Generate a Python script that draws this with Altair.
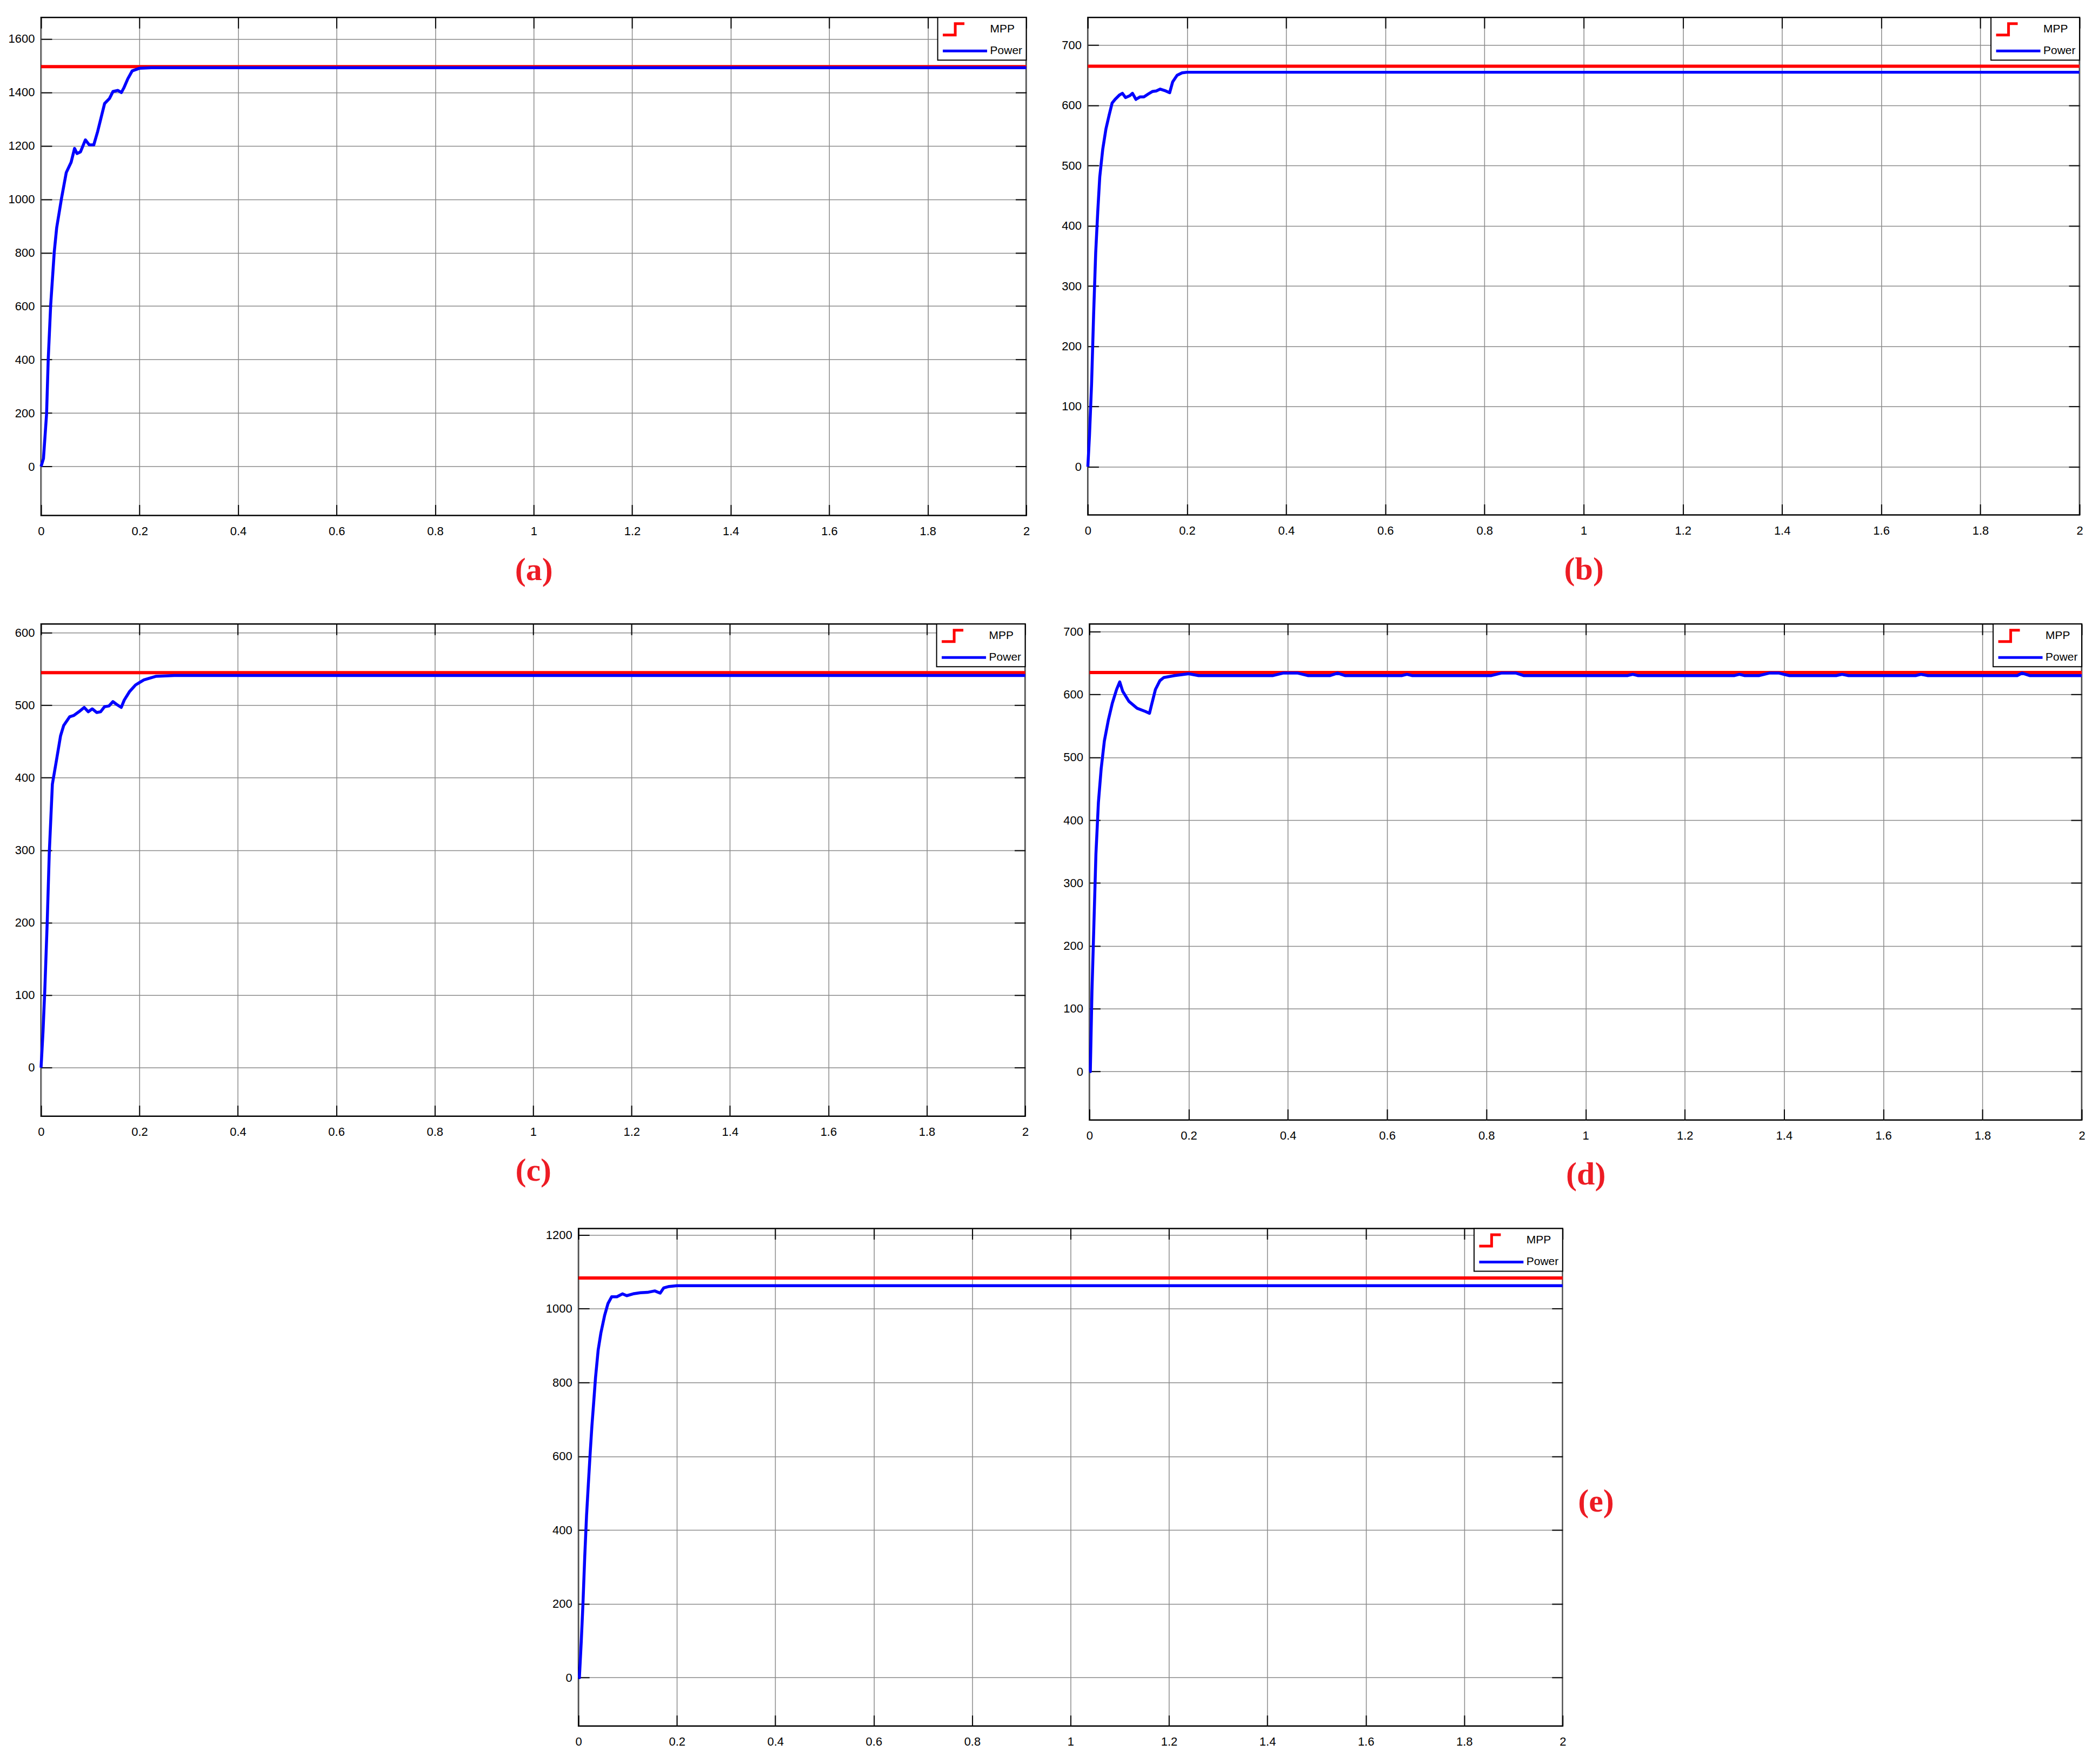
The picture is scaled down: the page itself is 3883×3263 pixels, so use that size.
import altair as alt
import pandas as pd

SERIES = ["MPP", "Power"]
SERIES_COLORS = ["#ff0000", "#0000ff"]
LEGEND_SHAPES = ["M-1,0.84L0.84,0.84L0.84,-0.84L2.2,-0.84", "M-1,0L5.56,0"]
MPP_TIME = [0, 2]
X_TICKS = [0, 0.2, 0.4, 0.6, 0.8, 1, 1.2, 1.4, 1.6, 1.8, 2]
TICK = 20

# ---- panel (a)
a_time = [0, 0.0049, 0.0112, 0.0146, 0.0195, 0.0268, 0.0317, 0.0415, 0.0512, 0.061, 0.068,
          0.073, 0.080, 0.090, 0.098, 0.107, 0.115, 0.122, 0.129, 0.139, 0.146, 0.156, 0.163,
          0.168, 0.176, 0.185, 0.2, 0.224, 2.0]
a_power = [0, 30, 197, 403, 603, 803, 893, 1003, 1100, 1138, 1190, 1171, 1177, 1222, 1203,
           1203, 1254, 1306, 1358, 1377, 1403, 1407, 1399, 1416, 1450, 1480, 1490, 1492, 1492]
a_mpp = 1496
a_ylim = [-183, 1680]
a_yticks = [0, 200, 400, 600, 800, 1000, 1200, 1400, 1600]

# ---- panel (b)
b_time = [0, 0.0033, 0.0075, 0.0116, 0.0158, 0.02, 0.024, 0.030, 0.0365, 0.043, 0.049, 0.055,
          0.0635, 0.0697, 0.076, 0.0846, 0.090, 0.097, 0.105, 0.113, 0.122, 0.130, 0.138,
          0.146, 0.157, 0.165, 0.171, 0.18, 0.19, 0.2, 2.0]
b_power = [0, 52, 137, 252, 355, 424, 481, 527, 561, 584, 604, 610, 617, 620, 613, 616, 620,
           610, 614, 614, 619, 623, 624, 627, 624, 621, 639, 650, 654, 655, 655]
b_mpp = 665
b_ylim = [-80, 746]
b_yticks = [0, 100, 200, 300, 400, 500, 600, 700]

# ---- panel (c)
c_time = [0, 0.004, 0.0075, 0.0125, 0.0167, 0.023, 0.0313, 0.0397, 0.046, 0.058, 0.0668,
          0.077, 0.0877, 0.096, 0.104, 0.113, 0.121, 0.129, 0.138, 0.146, 0.154, 0.163, 0.169,
          0.18, 0.192, 0.209, 0.234, 0.271, 2.0]
c_power = [0, 50, 105, 200, 296, 391, 424, 458, 472, 484, 486, 491, 497, 491, 495, 490, 491,
           498, 499, 505, 501, 497, 507, 519, 528, 535, 540, 541, 541]
c_mpp = 545
c_ylim = [-67, 612]
c_yticks = [0, 100, 200, 300, 400, 500, 600]

# ---- panel (d)
d_time = [0, 0.0017, 0.005, 0.009, 0.013, 0.018, 0.0236, 0.030, 0.038, 0.046, 0.0547, 0.061,
          0.067, 0.0795, 0.096, 0.1126, 0.121, 0.125, 0.133, 0.142, 0.150, 0.171, 0.2, 0.22,
          0.37, 0.39, 0.42, 0.44, 0.485, 0.50, 0.515, 0.63, 0.64, 0.65, 0.81, 0.83, 0.86,
          0.875, 1.085, 1.095, 1.105, 1.30, 1.31, 1.32, 1.35, 1.37, 1.39, 1.41, 1.505, 1.517,
          1.53, 1.665, 1.676, 1.69, 1.87, 1.88, 1.895, 2.0]
d_power = [0, 0, 127, 236, 346, 428, 482, 526, 559, 586, 608, 620, 605, 589, 578, 573, 570,
           583, 608, 622, 627, 630, 633, 630, 630, 634, 634, 630, 630, 634, 630, 630, 632,
           630, 630, 634, 634, 630, 630, 632, 630, 630, 632, 630, 630, 634, 634, 630, 630,
           632, 630, 630, 632, 630, 630, 634, 630, 630]
d_mpp = 635
d_ylim = [-77, 712]
d_yticks = [0, 100, 200, 300, 400, 500, 600, 700]

# ---- panel (e)
e_time = [0, 0.0018, 0.0055, 0.009, 0.0127, 0.0164, 0.020, 0.0237, 0.0273, 0.031, 0.0346,
          0.040, 0.0455, 0.053, 0.060, 0.0674, 0.078, 0.0893, 0.098, 0.111, 0.1257, 0.140,
          0.155, 0.166, 0.173, 0.184, 0.2, 2.0]
e_power = [0, 0, 95, 198, 328, 440, 524, 608, 683, 748, 813, 888, 934, 981, 1014, 1032, 1032,
           1040, 1035, 1040, 1043, 1044, 1048, 1042, 1056, 1060, 1062, 1062]
e_mpp = 1083
e_ylim = [-131, 1217]
e_yticks = [0, 200, 400, 600, 800, 1000, 1200]

LEG = alt.Legend(
    title=None, orient="top-right", offset=0, padding=7, rowPadding=4,
    fillColor="white", strokeColor="black", labelFont="Liberation Sans",
    labelFontSize=21, labelColor="black", labelOffset=60, symbolSize=625,
    symbolStrokeWidth=5, cornerRadius=0,
)


def panel(time, power, mpp, ylim, yticks, width, height, label, label_right=False, y_extent=81):
    power_df = pd.DataFrame({"t": time, "P": power, "series": "Power"})
    mpp_df = pd.DataFrame({"t": MPP_TIME, "P": [mpp] * len(MPP_TIME), "series": "MPP"})
    xs = alt.Scale(domain=[0, 2], nice=False, zero=False)
    ys = alt.Scale(domain=ylim, nice=False, zero=False)
    cs = alt.Scale(domain=SERIES, range=SERIES_COLORS)

    x_bottom = alt.X(
        "t:Q", scale=xs, title=None if label_right else label,
        axis=alt.Axis(orient="bottom", values=X_TICKS, format="~g", offset=-TICK,
                      tickSize=TICK, domain=False, grid=True, labelPadding=19,
                      titlePadding=32),
    )
    y_left = alt.Y(
        "P:Q", scale=ys, title=None,
        axis=alt.Axis(orient="left", values=yticks, format="d", offset=-TICK,
                      tickSize=TICK, domain=False, grid=True, labelPadding=12,
                      minExtent=y_extent, maxExtent=y_extent),
    )
    x_top = alt.X(
        "t:Q", scale=xs, title=None,
        axis=alt.Axis(orient="top", values=X_TICKS, offset=-TICK, tickSize=TICK,
                      domain=False, grid=False, labels=False),
    )
    right_axis = dict(orient="right", values=yticks, offset=-TICK, tickSize=TICK,
                      domain=False, grid=False, labels=False)
    if label_right:
        right_axis.update(titleAngle=0, titleX=48, titleY=505, titleAlign="left",
                          titleBaseline="middle")
    y_right = alt.Y("P:Q", scale=ys, title=label if label_right else None,
                    axis=alt.Axis(**right_axis))

    mpp_line = alt.Chart(mpp_df).mark_line(strokeWidth=6, color=SERIES_COLORS[0]).encode(
        x=x_bottom, y=y_left,
    )
    power_line = alt.Chart(power_df).mark_line(
        strokeWidth=5.5, strokeJoin="round", color=SERIES_COLORS[1]
    ).encode(x=x_top, y=y_right)
    key = alt.Chart(mpp_df).mark_point(filled=False, opacity=1, size=625).encode(
        x=alt.X("t:Q", scale=xs, axis=None),
        y=alt.Y("P:Q", scale=ys, axis=None),
        color=alt.Color("series:N", scale=cs, legend=LEG),
        shape=alt.Shape("series:N", scale=alt.Scale(domain=SERIES, range=LEGEND_SHAPES),
                        legend=LEG),
    ).transform_filter("false")
    return alt.layer(mpp_line, power_line, key).resolve_axis(
        x="independent", y="independent"
    ).properties(width=width, height=height)


pa = panel(a_time, a_power, a_mpp, a_ylim, a_yticks, 1824, 922, "(a)")
pb = panel(b_time, b_power, b_mpp, b_ylim, b_yticks, 1836, 921, "(b)")
pc = panel(c_time, c_power, c_mpp, c_ylim, c_yticks, 1822, 911, "(c)")
pd_ = panel(d_time, d_power, d_mpp, d_ylim, d_yticks, 1837, 918, "(d)")
pe = panel(e_time, e_power, e_mpp, e_ylim, e_yticks, 1822, 921, "(e)", label_right=True)

spacer = alt.Chart(pd.DataFrame({"v": [0]})).mark_point(opacity=0).encode(
    x=alt.X("v:Q", axis=None), y=alt.Y("v:Q", axis=None)
).properties(width=975, height=10, view=alt.ViewBackground(strokeOpacity=0))


def row(charts, spacing):
    return alt.hconcat(*charts, spacing=spacing, bounds="flush").resolve_scale(
        color="independent", shape="independent"
    ).resolve_legend(color="independent", shape="independent")


chart = alt.vconcat(
    row([pa, pb], 114),
    row([pc, pd_], 119),
    row([spacer, pe], 20),
    spacing=65,
).resolve_scale(
    color="independent", shape="independent"
).resolve_legend(
    color="independent", shape="independent"
).properties(
    padding={"left": 5, "top": 20, "right": 10, "bottom": 10},
    background="white",
).configure_view(
    stroke="black", strokeWidth=2.5
).configure_axis(
    labelFont="Liberation Sans", labelFontSize=22, labelColor="black",
    tickColor="black", tickWidth=2, gridColor="#8a8a8a", gridWidth=1.5, gridOpacity=1,
    labelFlush=False, titleFont="Liberation Serif", titleFontSize=60,
    titleFontWeight="bold", titleColor="#ed1c24",
).configure_legend(
    strokeWidth=2
)

chart.save("out.html", embed_options={"renderer": "svg", "actions": False})
